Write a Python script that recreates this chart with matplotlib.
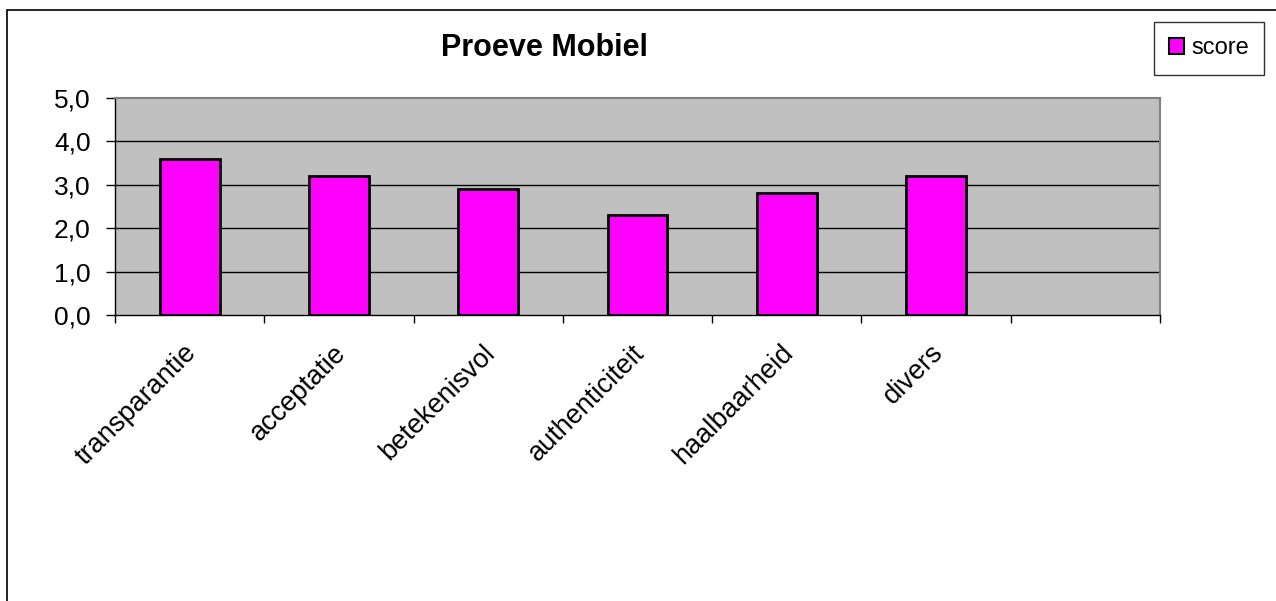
import matplotlib.pyplot as plt
import matplotlib.patches as mpatches
import numpy as np

plt.rcParams['font.family'] = ['Liberation Sans', 'DejaVu Sans']

# Data
categories = ['transparantie', 'acceptatie', 'betekenisvol', 'authenticiteit',
              'haalbaarheid', 'divers', '']
scores = [3.6, 3.2, 2.9, 2.3, 2.8, 3.2]
y_ticks = [0.0, 1.0, 2.0, 3.0, 4.0, 5.0]

W, H = 1276, 601
fig = plt.figure(figsize=(W / 100, H / 100), dpi=100)
ax = fig.add_axes([115 / W, 1 - 315 / H, (1160 - 115) / W, (315 - 98) / H])

ax.set_facecolor('#C0C0C0')
x = np.arange(len(scores))
ax.bar(x, scores, width=0.4, color='#FF00FF', edgecolor='black', linewidth=2,
       zorder=3, label='score')

ax.set_xlim(-0.5, len(categories) - 0.5)
ax.set_ylim(0, 5)
ax.set_yticks(y_ticks)
ax.set_yticklabels([f'{v:.1f}'.replace('.', ',') for v in y_ticks], fontsize=19)
for v in y_ticks[1:-1]:
    ax.axhline(v, color='black', linewidth=1, zorder=1)

# category boundaries as ticks
ax.set_xticks(np.arange(len(categories) + 1) - 0.5)
ax.set_xticklabels([])
ax.tick_params(axis='x', direction='out', length=6, width=1)
ax.tick_params(axis='y', direction='out', length=6.5, width=1, pad=11)
for i, c in enumerate(categories):
    ax.text(i + 0.02, -0.78, c, rotation=45, ha='right', va='center',
            rotation_mode='anchor', fontsize=19.5)

for side in ['top', 'right']:
    ax.spines[side].set_color('#808080')
    ax.spines[side].set_linewidth(1.5)
for side in ['left', 'bottom']:
    ax.spines[side].set_color('black')
    ax.spines[side].set_linewidth(1)

fig.text(544 / W, 1 - 48 / H, 'Proeve Mobiel', fontsize=22, fontweight='bold',
         ha='center', va='center')

handle = mpatches.Patch(facecolor='#FF00FF', edgecolor='black', linewidth=1.5)
fig.legend([handle], ['score'], loc='center', bbox_to_anchor=(1209 / W, 1 - 48.5 / H),
           fontsize=17, frameon=True, fancybox=False, edgecolor='black',
           handlelength=0.63, handleheight=0.63, handletextpad=0.3,
           borderpad=0.65, borderaxespad=0)

# chart border
fig.patches.append(mpatches.Rectangle((7 / W, -0.1), 1.2, 1 - 10 / H + 0.1,
                                      transform=fig.transFigure, fill=False,
                                      edgecolor='black', linewidth=1.2))

fig.savefig('out.png', dpi=100)
